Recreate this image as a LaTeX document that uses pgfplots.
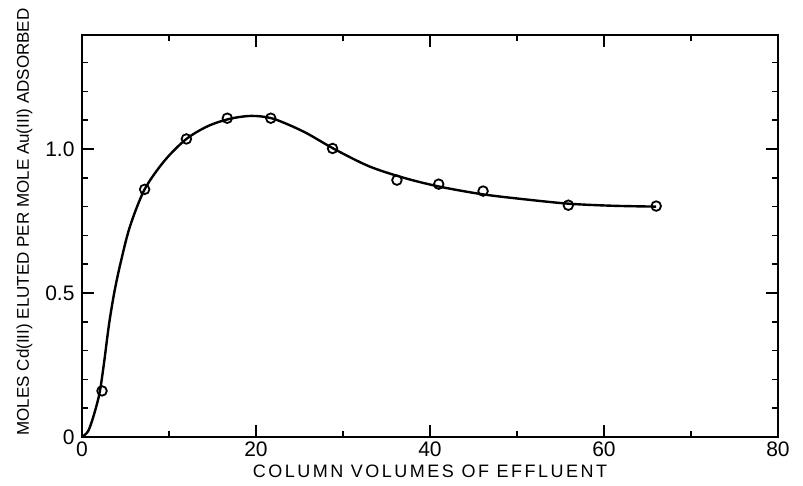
\documentclass[border=0pt]{standalone}
\usepackage{fontspec}
\setmainfont{Liberation Sans}
\usepackage{pgfplots}
\pgfplotsset{compat=1.18}

\begin{document}
\begin{tikzpicture}[x=1pt,y=1pt]
\path (-82,-48) rectangle (721,437);
\begin{axis}[
  at={(0,0)}, anchor=south west,
  scale only axis, width=696pt, height=402pt,
  xmin=0, xmax=80, ymin=0, ymax=1.396,
  xtick={0,20,40,60,80}, xticklabels={0,20,40,60,80},
  minor xtick={10,30,50,70},
  ytick={0,0.5,1.0}, yticklabels={0,0.5,1.0},
  minor ytick={0.1,0.2,0.3,0.4,0.6,0.7,0.8,0.9,1.1,1.2,1.3},
  tick align=inside,
  major tick length=12pt, minor tick length=6pt,
  every tick/.style={black, line width=1.6pt},
  axis line style={line width=1.6pt},
  tick label style={font=\fontsize{21}{23}\selectfont},
  xticklabel style={yshift=-1pt},
  yticklabel style={xshift=-4pt},
  /pgf/number format/assume math mode=true,
  xlabel={\addfontfeature{LetterSpace=14}COLUMN VOLUMES OF EFFLUENT},
  ylabel={MOLES Cd(III) ELUTED PER MOLE Au(III) ADSORBED},
  xlabel style={font=\fontsize{18}{20}\selectfont, yshift=-2pt},
  ylabel style={font=\fontsize{17}{19}\selectfont,
    at={(ticklabel cs:0.535)}, yshift=6pt},
]
% drawn curve
\addplot[black, line width=2.4pt, smooth, tension=0.5] coordinates {
  (0,0) (0.7,0.02) (1.3,0.07) (2.0,0.15) (2.5,0.25) (3.1,0.39) (3.7,0.50)
  (4.4,0.60) (5.5,0.73) (7.2,0.86) (9.5,0.96) (12,1.035) (14.5,1.08)
  (17,1.105) (19.5,1.115) (22,1.105) (25.5,1.06) (29,1.0) (33,0.94)
  (37,0.9) (41,0.87) (46,0.843) (51,0.825) (56,0.81) (61,0.803) (66,0.80)
};
% measured points
\addplot[only marks, mark=o, mark size=4.8pt,
  mark options={fill=white, line width=1.8pt}] coordinates {
  (2.3,0.16) (7.2,0.86) (12.0,1.035) (16.7,1.107) (21.7,1.107)
  (28.8,1.002) (36.2,0.892) (41.0,0.878) (46.1,0.854) (55.9,0.805)
  (66.0,0.802)
};
\end{axis}
\end{tikzpicture}
\end{document}
